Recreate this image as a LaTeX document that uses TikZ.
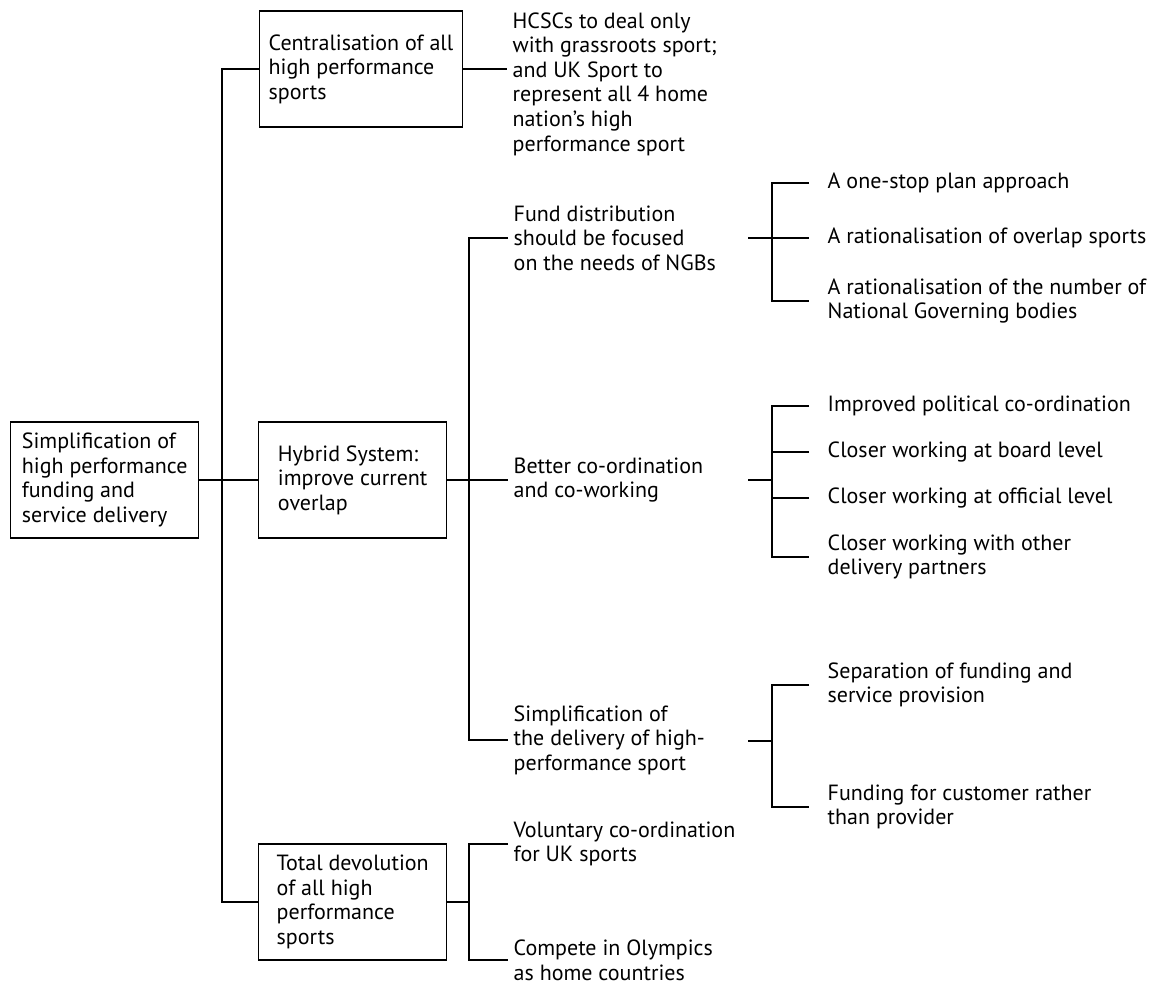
\documentclass[tikz,border=0pt]{standalone}
\usepackage{fontspec}
\setmainfont{PT Sans}
\usepackage{tikz}

\begin{document}
\begin{tikzpicture}[
    x=0.5pt,y=-0.5pt,
    font=\fontsize{11pt}{12.3pt}\selectfont,
    line width=0.7pt,
    blk/.style={
      draw,
      anchor=west,
      align=left,
      minimum width=94pt,
      minimum height=58pt,
      inner xsep=4.5pt
    },
    txt/.style={
      anchor=west,
      align=left,
      inner xsep=2.5pt
    },
    itm/.style={
      anchor=west,
      align=left,
      inner xsep=9pt
    }
    ]
    \useasboundingbox (0,0) rectangle (1160,987);

    \node[blk] at (10,480) 
      (root) {Simplification of\\high performance\\funding and\\service delivery};
    \node[blk] at (259,69) 
      (cent) {Centralisation of all\\high performance\\sports};
    \node[blk] at (258,480) 
      (hyb) {Hybrid System:\\improve current\\overlap};
    \node[blk] at (258,902) 
      (tot) {Total devolution\\of all high\\performance\\sports};

    \coordinate (sp1) at (222,480);
    \draw (cent.west) -| (sp1) |- (tot.west);
    \draw (root.east) -- (hyb.west);

    \node[txt] at (507,84) 
      (hcsc) {HCSCs to deal only\\with grassroots sport;\\and UK Sport to\\represent all 4 home\\nation's high\\performance sport};
    \draw (cent.east) -- (cent.east -| hcsc.west);

    \node[txt] at (508,238) 
      (fund) {Fund distribution\\should be focused\\on the needs of NGBs};
    \node[txt] at (508,480) 
      (better) {Better co-ordination\\and co-working};
    \node[txt] at (508,740) 
      (simp) {Simplification of\\the delivery of high-\\performance sport};
    \coordinate (sp2) at (469,480);
    \draw (fund.west) -| (sp2) |- (simp.west);
    \draw (hyb.east) -- (better.west);

    \node[txt] at (508,844) 
      (vol) {Voluntary co-ordination\\for UK sports};
    \node[txt] at (508,960) 
      (comp) {Compete in Olympics\\as home countries};
    \coordinate (sp3) at (469,902);
    \draw (vol.west) -| (sp3) |- (comp.west);
    \draw (tot.east) -- (sp3);

    \coordinate (fin) at (748,238);
    \coordinate (fbr) at (772,238);
    \node[itm] at (809,183) 
      (f1) {A one-stop plan approach};
    \node[itm] at (809,238) 
      (f2) {A rationalisation of overlap sports};
    \node[itm] at (809,301) 
      (f3) {A rationalisation of the number of\\National Governing bodies};
    \draw (fin) -- (fbr);
    \draw (f1.west) -| (fbr) |- (f3.west);
    \draw (fbr) -- (f2.west);

    \coordinate (bin) at (748,480);
    \coordinate (bbr) at (772,480);
    \node[itm] at (809,406) 
      (b1) {Improved political co-ordination};
    \node[itm] at (809,452) 
      (b2) {Closer working at board level};
    \node[itm] at (809,498) 
      (b3) {Closer working at official level};
    \node[itm] at (809,557) 
      (b4) {Closer working with other\\delivery partners};
    \draw (bin) -- (bbr);
    \draw (b1.west) -| (bbr) |- (b4.west);
    \draw (b2.west) -- (b2.west -| bbr);
    \draw (b3.west) -- (b3.west -| bbr);

    \coordinate (sin) at (748,741);
    \coordinate (sbr) at (772,741);
    \node[itm] at (809,685) 
      (sr1) {Separation of funding and\\service provision};
    \node[itm] at (809,807) 
      (sr2) {Funding for customer rather\\than provider};
    \draw (sin) -- (sbr);
    \draw (sr1.west) -| (sbr) |- (sr2.west);
\end{tikzpicture}
\end{document}
